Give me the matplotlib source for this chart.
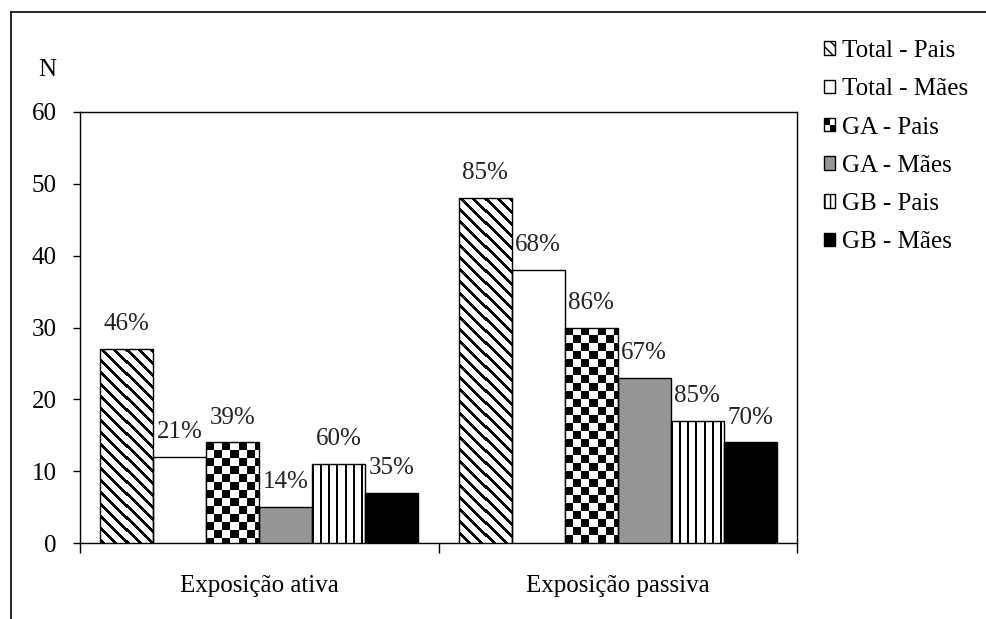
import numpy as np
import matplotlib
matplotlib.use('Agg')
import matplotlib.pyplot as plt
from matplotlib.patches import Rectangle
from matplotlib.lines import Line2D
from matplotlib.legend_handler import HandlerBase

plt.rcParams['font.family'] = ['Liberation Serif', 'DejaVu Serif']

# dados
categorias = ['Exposição ativa', 'Exposição passiva']
series = ['Total - Pais', 'Total - Mães', 'GA - Pais', 'GA - Mães', 'GB - Pais', 'GB - Mães']
ativa = [27, 12, 14, 5, 11, 7]
passiva = [48, 38, 30, 23, 17, 14]
pct_ativa = ['46%', '21%', '39%', '14%', '60%', '35%']
pct_passiva = ['85%', '68%', '86%', '67%', '85%', '70%']
y_ticks = [0, 10, 20, 30, 40, 50, 60]

# estilos: textura ou cor
estilos = ['diag', '#ffffff', 'check', '#969696', 'vert', '#000000']

W, H = 986, 619
FS = 18


def textura(tipo, h, w):
    r, c = np.mgrid[0:h, 0:w]
    if tipo == 'diag':
        mask = ((c - r) % 12) < 4
    elif tipo == 'vert':
        mask = (c % 8) < 2
    else:
        mask = ((r // 8 + c // 8) % 2) == 0
    return np.where(mask, 0.0, 1.0)


class HandlerXadrez(HandlerBase):
    def create_artists(self, legend, orig_handle, xdescent, ydescent,
                       width, height, fontsize, trans):
        x0, y0 = -xdescent, -ydescent
        arts = [Rectangle((x0, y0), width, height, facecolor='white',
                          edgecolor='black', lw=1, transform=trans)]
        arts.append(Rectangle((x0, y0 + height / 2), width / 2, height / 2,
                              facecolor='black', lw=0, transform=trans))
        arts.append(Rectangle((x0 + width / 2, y0), width / 2, height / 2,
                              facecolor='black', lw=0, transform=trans))
        return arts


fig = plt.figure(figsize=(W / 100, H / 100), dpi=100)
ax = fig.add_axes([80 / W, (H - 543) / H, 717 / W, 431 / H])
ax.set_xlim(-0.5, 1.5)
ax.set_ylim(0, 60)

# moldura externa
fig.add_artist(Line2D([11 / W, 1], [1 - 12 / H, 1 - 12 / H], color='black', lw=1.2))
fig.add_artist(Line2D([11 / W, 11 / W], [0, 1 - 12 / H], color='black', lw=1.2))

largura = 0.148
x = np.arange(len(categorias))
valores = np.array([ativa, passiva]).T
rotulos = np.array([pct_ativa, pct_passiva]).T

for i, nome in enumerate(series):
    pos = x + (i - 2.5) * largura
    est = estilos[i]
    if est.startswith('#'):
        bars = ax.bar(pos, valores[i], width=largura, color=est,
                      edgecolor='black', linewidth=1, zorder=3)
    else:
        bars = ax.bar(pos, valores[i], width=largura, facecolor='none',
                      edgecolor='black', linewidth=1, zorder=4)
        for b in bars:
            x0, x1 = b.get_x(), b.get_x() + b.get_width()
            y1 = b.get_height()
            p0 = ax.transData.transform((x0, 0))
            p1 = ax.transData.transform((x1, y1))
            w_px = max(1, int(round(p1[0] - p0[0])))
            h_px = max(1, int(round(p1[1] - p0[1])))
            im = ax.imshow(textura(est, h_px, w_px), cmap='gray', vmin=0, vmax=1,
                           extent=(x0, x1, 0, y1), interpolation='nearest',
                           aspect='auto', zorder=3)
            im.set_clip_path(b)
    for b, lab in zip(bars, rotulos[i]):
        ax.annotate(lab, (b.get_x() + b.get_width() / 2, b.get_height()),
                    xytext=(0, 13.5), textcoords='offset points',
                    ha='center', va='baseline', fontsize=FS, color='#222222')

ax.set_xlim(-0.5, 1.5)
ax.set_ylim(0, 60)

ax.set_yticks(y_ticks)
ax.tick_params(axis='y', direction='out', length=5, width=1, pad=12, labelsize=FS)
ax.set_xticks([-0.5, 0.5, 1.5])
ax.set_xticklabels([])
ax.tick_params(axis='x', which='major', direction='out', length=7, width=1)
ax.set_xticks(x, minor=True)
ax.set_xticklabels(categorias, minor=True)
ax.tick_params(axis='x', which='minor', length=0, pad=23, labelsize=FS)
for s in ax.spines.values():
    s.set_linewidth(1)
    s.set_color('black')

fig.text(47 / W, 1 - 70 / H, 'N', ha='center', va='center', fontsize=FS)

# legenda
handles = [
    Rectangle((0, 0), 1, 1, facecolor='white', edgecolor='black', hatch='\\\\\\'),
    Rectangle((0, 0), 1, 1, facecolor='white', edgecolor='black'),
    Rectangle((0, 0), 1, 1, facecolor='white', edgecolor='black'),
    Rectangle((0, 0), 1, 1, facecolor='#969696', edgecolor='black'),
    Rectangle((0, 0), 1, 1, facecolor='white', edgecolor='black', hatch='|||'),
    Rectangle((0, 0), 1, 1, facecolor='black', edgecolor='black'),
]
ax.legend(handles, series, loc='upper left',
          bbox_to_anchor=(824 / W, 1 - 40 / H), bbox_transform=fig.transFigure,
          frameon=False, fontsize=FS, handlelength=0.45, handleheight=0.45,
          handletextpad=0.25, labelspacing=0.65, borderpad=0, borderaxespad=0,
          handler_map={handles[2]: HandlerXadrez()})

fig.savefig('out.png', dpi=100)
